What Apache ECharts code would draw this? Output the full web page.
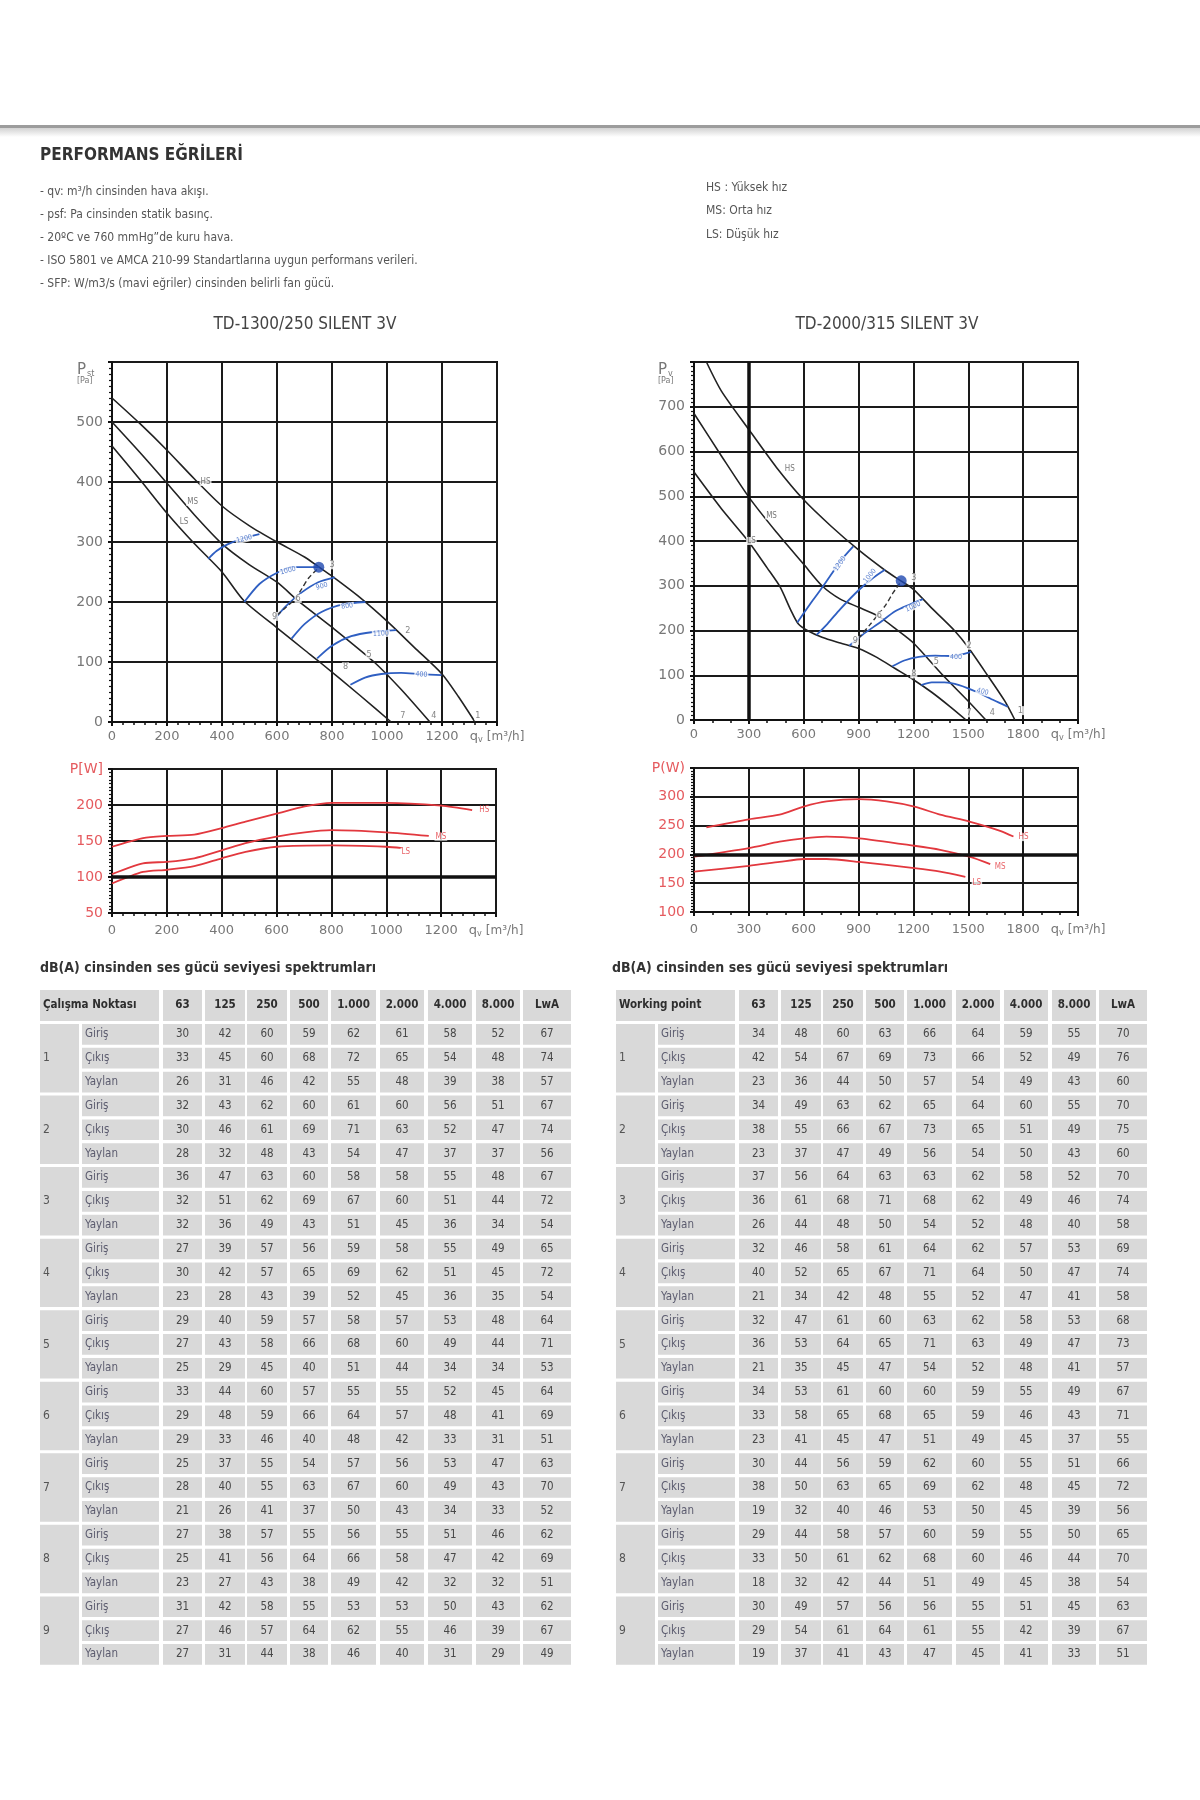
<!DOCTYPE html>
<html><head><meta charset="utf-8">
<script src="https://cdn.jsdelivr.net/npm/echarts@6/dist/echarts.min.js"></script>
<style>html,body{margin:0;padding:0;background:#fff}#c{width:1200px;height:1800px}</style>
</head><body><div id="c"></div>
<script>
// ---------- DATA ----------
// TD-1300/250 fan curves  [q m3/h, Pst Pa]
const L_HS = [[0,540],[100,498],[200,453],[300,405],[400,360],[500,327],[600,300],[700,275],[753,258],[800,243],[900,208],[1000,168],[1100,124],[1200,80],[1260,42],[1320,0]];
const L_MS = [[0,500],[100,450],[200,398],[300,345],[400,297],[500,262],[600,233],[677,202],[800,158],[953,100],[1050,55],[1156,0]];
const L_LS = [[0,460],[100,405],[200,348],[300,297],[400,250],[480,202],[600,157],[700,120],[755,100],[900,45],[1015,0]];
const L_SFP = [
  [[350,272],[380,285],[420,296],[470,305],[536,313]],
  [[481,200],[536,230],[597,248],[657,258],[753,258]],
  [[592,172],[630,192],[690,216],[750,233],[810,241]],
  [[653,139],[700,163],[760,183],[840,196],[921,200]],
  [[746,106],[800,127],[870,143],[950,150],[1033,153]],
  [[867,62],[920,74],[980,80],[1051,82],[1120,80],[1198,78]]
];
const L_SYS = [[745,254],[715,240],[690,222],[665,205],[630,190],[600,178],[588,170]];
const L_DOT = [[752,258]];
const L_CURVE_TAGS = [['HS',340,400],['MS',293,367],['LS',262,334]];
const L_POINT_TAGS = [['1',1330,10],['2',1076,153],['3',800,262],['4',1170,11],['5',935,113],['6',677,206],['7',1058,11],['8',849,92],['9',591,176]];
const L_SFP_TAGS = [['1200',481,305,14],['1000',640,252,14],['900',763,226,16],['800',855,193,8],['1100',978,147,3],['400',1125,79,-4]];

// TD-2000/315 fan curves  [q m3/h, Pv Pa]
const R_HS = [[68,800],[150,735],[300,649],[450,565],[600,492],[750,433],[900,380],[1050,333],[1131,311],[1200,292],[1300,250],[1424,200],[1500,162],[1605,100],[1700,42],[1755,0]];
const R_MS = [[0,685],[150,590],[300,498],[450,420],[600,348],[700,300],[800,270],[900,252],[1008,232],[1108,202],[1200,172],[1361,100],[1500,42],[1596,0]];
const R_LS = [[0,554],[150,472],[300,398],[400,340],[470,298],[530,245],[570,215],[620,200],[700,185],[800,172],[900,160],[1000,140],[1100,115],[1200,90],[1300,62],[1400,30],[1488,0]];
const R_SFP = [
  [[565,218],[640,262],[690,290],[750,325],[800,355],[871,388]],
  [[670,190],[730,215],[800,248],[900,290],[980,318],[1044,336]],
  [[850,166],[920,190],[1017,218],[1100,243],[1180,258],[1252,270]],
  [[1085,120],[1150,133],[1230,141],[1320,144],[1420,143],[1515,152]],
  [[1243,78],[1300,84],[1370,84],[1450,78],[1550,62],[1640,44],[1715,30]]
];
const R_SYS = [[1125,305],[1090,285],[1050,258],[1008,236],[960,212],[915,190],[880,172]];
const R_DOT = [[1133,311]];
const R_CURVE_TAGS = [['HS',524,561],['MS',424,457],['LS',314,400]];
const R_POINT_TAGS = [['1',1785,21],['2',1505,167],['3',1202,318],['4',1632,16],['5',1325,130],['6',1014,234],['7',1505,16],['8',1202,103],['9',882,178]];
const R_SFP_TAGS = [['1200',798,349,55],['1000',962,322,50],['1000',1198,253,25],['400',1433,140,0],['400',1578,63,-15]];

// Power curves [q m3/h, P W]
const LP_HS = [[0,142],[113,154],[200,157],[300,159],[400,168],[487,177],[600,188],[703,198],[800,203],[1000,203],[1200,199],[1313,193]];
const LP_MS = [[0,104],[113,119],[200,121],[300,126],[400,137],[487,147],[600,156],[703,162],[800,165],[1000,162],[1155,157]];
const LP_LS = [[0,91],[113,107],[200,110],[300,115],[400,126],[487,135],[600,142],[800,144],[1000,142],[1058,140]];
const LP_TAGS = [['HS',1357,193],['MS',1199,156],['LS',1071,135]];
const RP_HS = [[68,247],[300,261],[468,269],[600,283],[725,292],[902,296],[1053,292],[1205,283],[1346,269],[1506,257],[1674,241],[1747,231]];
const RP_MS = [[0,196],[300,211],[468,222],[600,228],[725,231],[902,228],[1205,215],[1346,208],[1506,196],[1620,183]];
const RP_LS = [[0,170],[300,180],[468,187],[600,192],[725,192],[902,187],[1205,176],[1346,170],[1484,161]];
const RP_TAGS = [['HS',1802,230],['MS',1674,178],['LS',1547,151]];

// Sound power tables
const BANDS = ['63','125','250','500','1.000','2.000','4.000','8.000','LwA'];
const ROW_TYPES = ['Giriş','Çıkış','Yaylan'];
const TD1300_NOISE = [
  [30,42,60,59,62,61,58,52,67],[33,45,60,68,72,65,54,48,74],[26,31,46,42,55,48,39,38,57],
  [32,43,62,60,61,60,56,51,67],[30,46,61,69,71,63,52,47,74],[28,32,48,43,54,47,37,37,56],
  [36,47,63,60,58,58,55,48,67],[32,51,62,69,67,60,51,44,72],[32,36,49,43,51,45,36,34,54],
  [27,39,57,56,59,58,55,49,65],[30,42,57,65,69,62,51,45,72],[23,28,43,39,52,45,36,35,54],
  [29,40,59,57,58,57,53,48,64],[27,43,58,66,68,60,49,44,71],[25,29,45,40,51,44,34,34,53],
  [33,44,60,57,55,55,52,45,64],[29,48,59,66,64,57,48,41,69],[29,33,46,40,48,42,33,31,51],
  [25,37,55,54,57,56,53,47,63],[28,40,55,63,67,60,49,43,70],[21,26,41,37,50,43,34,33,52],
  [27,38,57,55,56,55,51,46,62],[25,41,56,64,66,58,47,42,69],[23,27,43,38,49,42,32,32,51],
  [31,42,58,55,53,53,50,43,62],[27,46,57,64,62,55,46,39,67],[27,31,44,38,46,40,31,29,49]
];
const TD2000_NOISE = [
  [34,48,60,63,66,64,59,55,70],[42,54,67,69,73,66,52,49,76],[23,36,44,50,57,54,49,43,60],
  [34,49,63,62,65,64,60,55,70],[38,55,66,67,73,65,51,49,75],[23,37,47,49,56,54,50,43,60],
  [37,56,64,63,63,62,58,52,70],[36,61,68,71,68,62,49,46,74],[26,44,48,50,54,52,48,40,58],
  [32,46,58,61,64,62,57,53,69],[40,52,65,67,71,64,50,47,74],[21,34,42,48,55,52,47,41,58],
  [32,47,61,60,63,62,58,53,68],[36,53,64,65,71,63,49,47,73],[21,35,45,47,54,52,48,41,57],
  [34,53,61,60,60,59,55,49,67],[33,58,65,68,65,59,46,43,71],[23,41,45,47,51,49,45,37,55],
  [30,44,56,59,62,60,55,51,66],[38,50,63,65,69,62,48,45,72],[19,32,40,46,53,50,45,39,56],
  [29,44,58,57,60,59,55,50,65],[33,50,61,62,68,60,46,44,70],[18,32,42,44,51,49,45,38,54],
  [30,49,57,56,56,55,51,45,63],[29,54,61,64,61,55,42,39,67],[19,37,41,43,47,45,41,33,51]
];

// ---------- LAYOUT / STYLE ----------
const FONT = 'DejaVu Sans';
const COND = 'DejaVu Sans Condensed';
const BLUE = '#2f5fc2', RED = '#e2383e', INK = '#222';
const COLS = [[0,39],[42,119],[123,162],[165,205],[207,247],[250,288],[291,336],[340,384],[388,432],[436,480],[483,531]];
const HEAD_H = 31, ROW_TOP = 34, ROW_PITCH = 23.85, ROW_H = 20.7;

const chart = echarts.init(document.getElementById('c'), null, {renderer:'canvas'});

function qLabel(max){
  return v => v === max ? '{q|q}{s|v} {u|[m³/h]}' : String(v);
}
function xAxis(gi, max, interval, minorSplit){
  return {type:'value', gridIndex:gi, min:0, max, interval,
    axisLine:{show:true, lineStyle:{color:'#111', width:2}},
    axisTick:{show:true, length:4, lineStyle:{color:'#111', width:2}},
    minorTick:{show:true, splitNumber:minorSplit, length:3, lineStyle:{color:'#111', width:1.5}},
    splitLine:{show:true, lineStyle:{color:'#1a1a1a', width:2}},
    axisLabel:{color:'#777', fontSize:13, fontFamily:FONT, margin:gi<2?8:11, formatter:qLabel(max),
      rich:{q:{fontSize:13, color:'#777'}, s:{fontSize:8, color:'#777', verticalAlign:'bottom', padding:[6,0,0,0]}, u:{fontSize:12, color:'#777'}}}};
}
function yAxis(gi, min, max, interval, color, topText){
  return {type:'value', gridIndex:gi, min, max, interval,
    axisLine:{show:true, lineStyle:{color:'#111', width:2}},
    axisTick:{show:true, length:4, lineStyle:{color:'#111', width:2}},
    minorTick:{show:true, splitNumber:10, length:3, lineStyle:{color:'#111', width:1.2}},
    splitLine:{show:true, lineStyle:{color:'#1a1a1a', width:2}},
    axisLabel:{color, fontSize:14, fontFamily:FONT, margin:9,
      formatter: v => v === max ? topText : String(v)}};
}
function line(data, ai, color, width, type){
  return {type:'line', xAxisIndex:ai, yAxisIndex:ai, data, smooth:0.25, symbol:'none', silent:true, z:3,
    lineStyle:{color, width, type:type||'solid'}};
}
function tags(items, ai, color, size, bg){
  return {type:'scatter', xAxisIndex:ai, yAxisIndex:ai, silent:true, symbolSize:1, z:6,
    itemStyle:{color:'rgba(0,0,0,0)'},
    data: items.map(t => ({value:[t[1], t[2]], label:{formatter:t[0], rotate:t[3]||0}})),
    label:{show:true, position:'inside', color, fontSize:size, fontFamily:COND,
      backgroundColor:bg||'transparent', padding:[0,1]}};
}
function thick(ai, axis, val){
  return {type:'line', xAxisIndex:ai, yAxisIndex:ai, data:[], silent:true,
    markLine:{silent:true, symbol:'none', label:{show:false}, animation:false,
      lineStyle:{color:'#111', width:3.5, type:'solid'}, data:[{[axis]:val}]}};
}
function tableSeries(ai, header, rows){
  const cells = [];
  cells.push({c0:0, c1:1, y0:0, y1:HEAD_H, text:header, align:'left', kind:'head'});
  BANDS.forEach((b,i) => cells.push({c0:i+2, c1:i+2, y0:0, y1:HEAD_H, text:b, align:'center', kind:'head'}));
  rows.forEach((row, r) => {
    const y0 = ROW_TOP + r*ROW_PITCH, y1 = y0 + ROW_H;
    if (r % 3 === 0) cells.push({c0:0, c1:0, y0, y1: ROW_TOP + (r+3)*ROW_PITCH - (ROW_PITCH-ROW_H), text:String(r/3+1), align:'left', kind:'grp'});
    cells.push({c0:1, c1:1, y0, y1, text:ROW_TYPES[r%3], align:'left', kind:'lab'});
    row.forEach((v,i) => cells.push({c0:i+2, c1:i+2, y0, y1, text:String(v), align:'center', kind:'val'}));
  });
  return {type:'custom', coordinateSystem:'cartesian2d', xAxisIndex:ai, yAxisIndex:ai, silent:true,
    data: cells.map(c => [(COLS[c.c0][0]+COLS[c.c1][1])/2, (c.y0+c.y1)/2]),
    renderItem(params, api){
      const c = cells[params.dataIndex];
      const p0 = api.coord([COLS[c.c0][0], c.y0]);
      const p1 = api.coord([COLS[c.c1][1], c.y1]);
      const w = p1[0]-p0[0], h = p1[1]-p0[1];
      const tx = c.align === 'left' ? p0[0] + 3 : p0[0] + w/2;
      let font = '11.5px "' + COND + '"', fill = '#484848';
      if (c.kind === 'head') { font = 'bold 11.5px "' + COND + '"'; fill = '#2e2e2e'; }
      if (c.kind === 'lab') { font = '11.5px "' + COND + '"'; fill = '#5b5b6e'; }
      if (c.kind === 'grp') { font = '12px "' + COND + '"'; fill = '#555'; }
      return {type:'group', children:[
        {type:'rect', shape:{x:p0[0], y:p0[1], width:w, height:h}, style:{fill:'#d9d9d9'}},
        {type:'text', style:{x:tx, y:p0[1]+h/2, text:c.text, textAlign:c.align, textVerticalAlign:'middle', font, fill}}
      ]};
    }};
}

// ---------- SERIES ----------
const series = [];
[L_HS, L_MS, L_LS].forEach(d => series.push(line(d, 0, INK, 1.6)));
L_SFP.forEach(d => series.push(line(d, 0, BLUE, 1.8)));
series.push(line(L_SYS, 0, '#333', 1.4, [5,3]));
series.push({type:'scatter', xAxisIndex:0, yAxisIndex:0, data:L_DOT, symbol:'circle', symbolSize:11, itemStyle:{color:'#1f48b0'}, z:7, silent:true});
series.push(tags(L_CURVE_TAGS, 0, '#555', 8, '#fff'));
series.push(tags(L_POINT_TAGS, 0, '#666', 9, '#fff'));
series.push(tags(L_SFP_TAGS, 0, BLUE, 7, '#fff'));

[R_HS, R_MS, R_LS].forEach(d => series.push(line(d, 1, INK, 1.6)));
R_SFP.forEach(d => series.push(line(d, 1, BLUE, 1.8)));
series.push(line(R_SYS, 1, '#333', 1.4, [5,3]));
series.push({type:'scatter', xAxisIndex:1, yAxisIndex:1, data:R_DOT, symbol:'circle', symbolSize:11, itemStyle:{color:'#1f48b0'}, z:7, silent:true});
series.push(tags(R_CURVE_TAGS, 1, '#555', 8, '#fff'));
series.push(tags(R_POINT_TAGS, 1, '#666', 9, '#fff'));
series.push(tags(R_SFP_TAGS, 1, BLUE, 7, '#fff'));
series.push(thick(1, 'xAxis', 300));

[LP_HS, LP_MS, LP_LS].forEach(d => series.push(line(d, 2, RED, 1.8)));
series.push(tags(LP_TAGS, 2, RED, 8, '#fff'));
series.push(thick(2, 'yAxis', 100));
[RP_HS, RP_MS, RP_LS].forEach(d => series.push(line(d, 3, RED, 1.8)));
series.push(tags(RP_TAGS, 3, RED, 8, '#fff'));
series.push(thick(3, 'yAxis', 200));

series.push(tableSeries(4, 'Çalışma Noktası', TD1300_NOISE));
series.push(tableSeries(5, 'Working point', TD2000_NOISE));

// ---------- STATIC TEXT ----------
function txt(x, y, text, font, fill, align){
  return {type:'text', x, y, silent:true, style:{text, font, fill, textAlign:align||'left', textVerticalAlign:'middle'}};
}
const bullet = '12px "' + COND + '"';
const graphic = [
  {type:'rect', silent:true, shape:{x:0, y:125, width:1200, height:3}, style:{fill:'#9c9c9c'}},
  {type:'rect', silent:true, shape:{x:0, y:128, width:1200, height:9},
    style:{fill:new echarts.graphic.LinearGradient(0,0,0,1,[{offset:0,color:'#d2d2d2'},{offset:1,color:'#ffffff'}])}},
  txt(40, 156, 'PERFORMANS EĞRİLERİ', 'bold 17px "' + COND + '"', '#333'),
  txt(40, 192, '- qv: m³/h cinsinden hava akışı.', bullet, '#555'),
  txt(40, 215, '- psf: Pa cinsinden statik basınç.', bullet, '#555'),
  txt(40, 238, '- 20ºC ve 760 mmHg\u201dde kuru hava.', bullet, '#555'),
  txt(40, 261, '- ISO 5801 ve AMCA 210-99 Standartlarına uygun performans verileri.', bullet, '#555'),
  txt(40, 284, '- SFP: W/m3/s (mavi eğriler) cinsinden belirli fan gücü.', bullet, '#555'),
  txt(706, 188, 'HS : Yüksek hız', bullet, '#555'),
  txt(706, 211, 'MS: Orta hız', bullet, '#555'),
  txt(706, 235, 'LS: Düşük hız', bullet, '#555'),
  txt(305, 325, 'TD-1300/250 SILENT 3V', '17px "' + COND + '"', '#444', 'center'),
  txt(887, 325, 'TD-2000/315 SILENT 3V', '17px "' + COND + '"', '#444', 'center'),
  txt(77, 370, 'P', '15px "' + FONT + '"', '#777'),
  txt(87, 374, 'st', '8px "' + FONT + '"', '#777'),
  txt(77, 381, '[Pa]', '8px "' + FONT + '"', '#777'),
  txt(658, 370, 'P', '15px "' + FONT + '"', '#777'),
  txt(668, 374, 'v', '8px "' + FONT + '"', '#777'),
  txt(658, 381, '[Pa]', '8px "' + FONT + '"', '#777'),
  txt(40, 968, 'dB(A) cinsinden ses gücü seviyesi spektrumları', 'bold 14px "' + COND + '"', '#333'),
  txt(612, 968, 'dB(A) cinsinden ses gücü seviyesi spektrumları', 'bold 14px "' + COND + '"', '#333')
];

const gridBase = {show:true, borderColor:'#111', borderWidth:2, containLabel:false};
const option = {
  animation:false,
  backgroundColor:'#fff',
  textStyle:{fontFamily:FONT},
  grid:[
    Object.assign({left:112, top:362, width:385, height:360}, gridBase),
    Object.assign({left:694, top:362, width:384, height:358}, gridBase),
    Object.assign({left:112, top:769, width:384, height:144}, gridBase),
    Object.assign({left:694, top:768, width:384, height:144}, gridBase),
    {left:40, top:990, width:531, height:675, show:false},
    {left:616, top:990, width:531, height:675, show:false}
  ],
  xAxis:[
    xAxis(0, 1400, 200, 5),
    xAxis(1, 2100, 300, 3),
    xAxis(2, 1400, 200, 5),
    xAxis(3, 2100, 300, 3),
    {type:'value', gridIndex:4, min:0, max:531, show:false},
    {type:'value', gridIndex:5, min:0, max:531, show:false}
  ],
  yAxis:[
    yAxis(0, 0, 600, 100, '#777', ''),
    yAxis(1, 0, 800, 100, '#777', ''),
    yAxis(2, 50, 250, 50, '#e55a5e', 'P[W]'),
    yAxis(3, 100, 350, 50, '#e55a5e', 'P(W)'),
    {type:'value', gridIndex:4, min:0, max:675, inverse:true, show:false},
    {type:'value', gridIndex:5, min:0, max:675, inverse:true, show:false}
  ],
  graphic,
  series
};
chart.setOption(option);
</script>
</body></html>
